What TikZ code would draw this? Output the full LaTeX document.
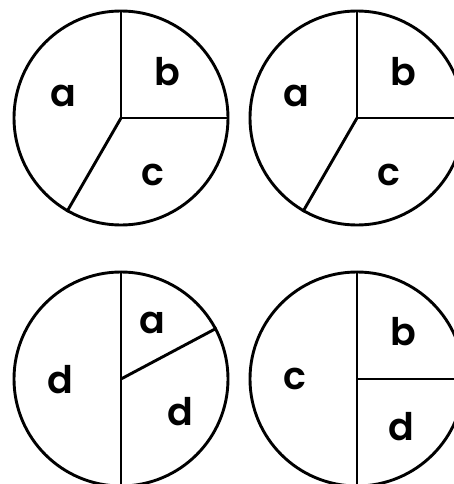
\documentclass[tikz,border=0pt]{standalone}
\usepackage{fontspec}
\setmainfont{Poppins}
\newfontfamily\labfont{Poppins}[UprightFont=* SemiBold]
\begin{document}
\begin{tikzpicture}[x=1pt,y=-1pt,
  pie/.style={draw, circle, line width=2.9pt, minimum size=214pt, inner sep=0pt},
  seg/.style={line width=2.9pt},
  lab/.style={inner sep=0pt, font=\fontsize{38}{38}\labfont}]
\useasboundingbox (0,0) rectangle (454,484);
% top-left
\node[pie] (p1) at (121,118) {};
\draw[seg] (p1.center) -- (p1.north);
\draw[seg] (p1.center) -- (p1.east);
\draw[seg] (p1.center) -- (p1.-120.7);
\node[lab] (p1a) at (63,96) {a};
\node[lab] (p1b) at (167.5,71.5) {b};
\node[lab] (p1c) at (152.5,175) {c};
% top-right
\node[pie] (p2) at (357,118) {};
\draw[seg] (p2.center) -- (p2.north);
\draw[seg] (p2.center) -- (p2.east);
\draw[seg] (p2.center) -- (p2.-120.7);
\node[lab] (p2a) at (296,96) {a};
\node[lab] (p2b) at (403,71.5) {b};
\node[lab] (p2c) at (389,175) {c};
% bottom-left
\node[pie] (p3) at (121,379) {};
\draw[seg] (p3.north) -- (p3.south);
\draw[seg] (p3.center) -- (p3.28.8);
\node[lab] (p3d) at (60.5,380) {d};
\node[lab] (p3a) at (152.5,323) {a};
\node[lab] (p3e) at (180.5,412) {d};
% bottom-right
\node[pie] (p4) at (357,379) {};
\draw[seg] (p4.north) -- (p4.south);
\draw[seg] (p4.center) -- (p4.east);
\node[lab] (p4c) at (294.5,379) {c};
\node[lab] (p4b) at (403,332) {b};
\node[lab] (p4d) at (401,427) {d};
\end{tikzpicture}
\end{document}
